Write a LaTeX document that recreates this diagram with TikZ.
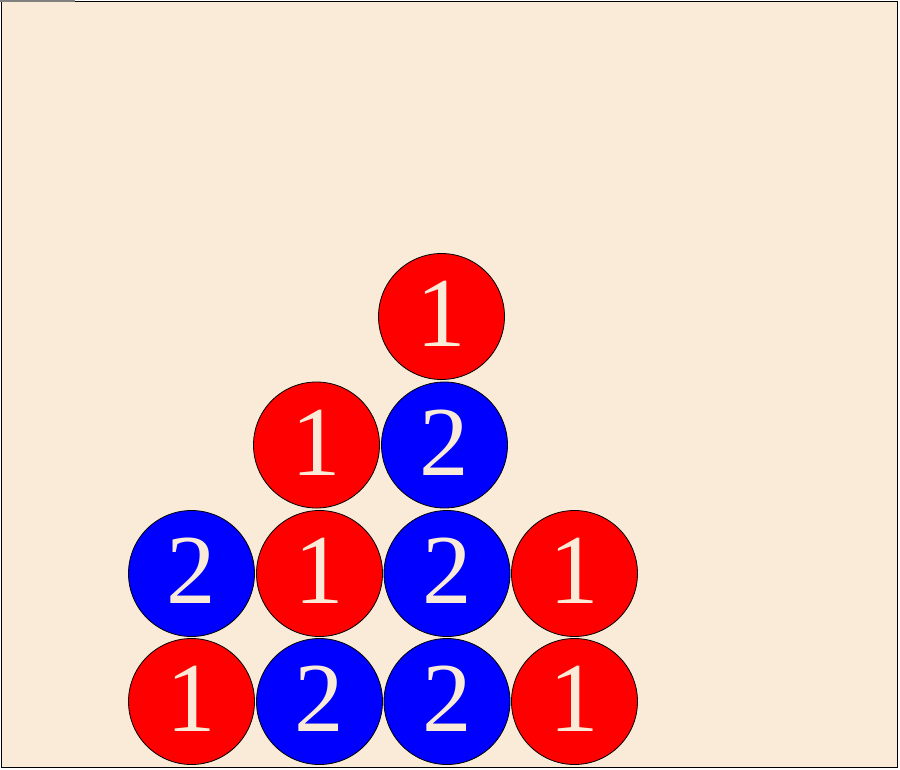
\documentclass[tikz,border=0pt]{standalone}
\usepackage{fontspec}
\setmainfont{Liberation Serif}
\newfontfamily\discfont{Liberation Serif}
\usepackage{xcolor}
\definecolor{board}{RGB}{249,235,215}

\tikzset{
    disc/.style={circle, draw=black, line width=0.8pt, minimum size=126pt, inner sep=0pt,
        text=board, font=\discfont\fontsize{99}{99}\selectfont},
    pone/.style={disc, fill=red},
    ptwo/.style={disc, fill=blue}
}

\begin{document}
\begin{tikzpicture}[x=1pt, y=-1pt]
        \def\up{5pt}
        \useasboundingbox (0,0) rectangle (900,769);
        \filldraw[fill=board, draw=black, line width=1.2pt] (1.5,1.5) rectangle (897.5,767.5);
        \draw[gray, line width=1.5pt] (0,0.75) -- (75,0.75);
        % bottom row
        \node[pone] (a1) at (191.5,701.5) {\raisebox{\up}{1}};
        \node[ptwo] (b1) at (319.5,701.5) {\raisebox{\up}{2}};
        \node[ptwo] (c1) at (447,701.5) {\raisebox{\up}{2}};
        \node[pone] (d1) at (574.5,701.5) {\raisebox{\up}{1}};
        % second row
        \node[ptwo] (a2) at (191.5,573.5) {\raisebox{\up}{2}};
        \node[pone] (b2) at (319.5,573.5) {\raisebox{\up}{1}};
        \node[ptwo] (c2) at (447,573.5) {\raisebox{\up}{2}};
        \node[pone] (d2) at (574.5,573.5) {\raisebox{\up}{1}};
        % third row
        \node[pone] (b3) at (316.5,445) {\raisebox{\up}{1}};
        \node[ptwo] (c3) at (444.5,445) {\raisebox{\up}{2}};
        % top
        \node[pone] (c4) at (441.5,316.5) {\raisebox{\up}{1}};
    \end{tikzpicture}
\end{document}
